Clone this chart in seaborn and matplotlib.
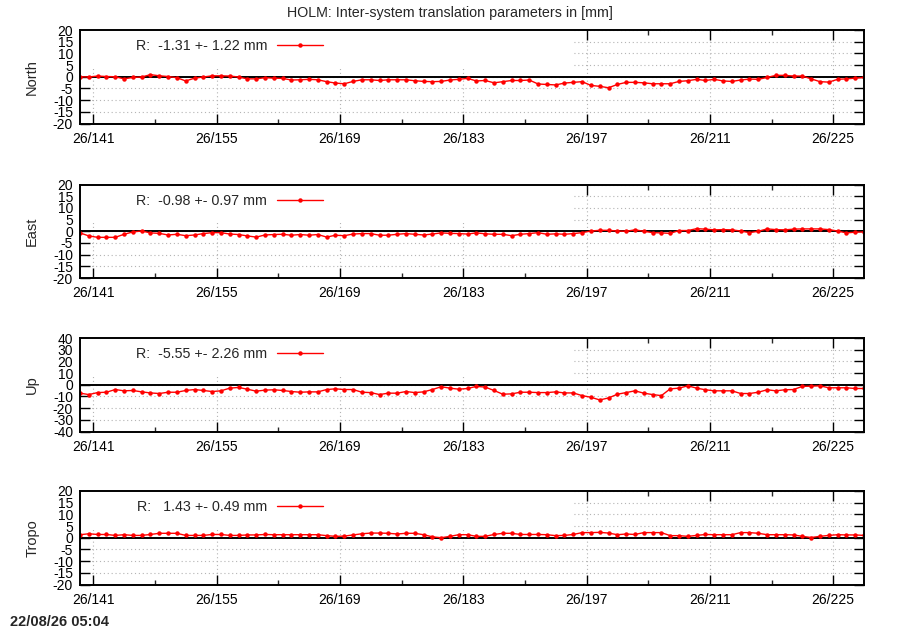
import numpy as np
import pandas as pd
import matplotlib
matplotlib.use("Agg")
import matplotlib.pyplot as plt
import seaborn as sns
from matplotlib.patches import Rectangle
from matplotlib.ticker import FixedLocator

# ---------------- data ----------------
days = np.arange(139.5, 229.5, 1.0)          # daily solutions, DOY 139.5 .. 228.5

north = [0.0, -0.1, 0.3, 0.1, 0.0, -0.9, -0.3, -0.1, 0.9, 0.4, 0.1, -0.4, -1.8, -0.6, -0.1,
         0.4, 0.4, 0.3, -0.1, -0.9, -0.9, -0.4, -0.6, -0.7, -1.4, -1.3, -1.1, -1.3, -2.1, -2.7,
         -3.0, -2.0, -1.3, -1.3, -1.6, -1.3, -1.3, -1.3, -1.7, -2.0, -2.1, -2.0, -1.4,
         -1.1, -0.7, -1.8, -1.6, -2.6, -2.1, -1.6, -1.6, -1.4, -3.1, -3.3, -3.5, -2.7, -2.4, -2.1,
         -3.7, -4.1, -4.7, -3.3, -2.4, -2.4, -2.6, -3.0, -3.0, -3.0, -2.0, -1.7, -1.1, -1.6, -1.1,
         -1.8, -2.0, -1.4, -1.0, -1.1, -0.3, 0.6, 0.6, 0.3, 0.3, -0.9, -2.1, -2.3, -1.1, -0.9,
         -0.6, -0.3]

east = [-0.7, -2.0, -2.6, -2.6, -2.6, -1.3, -0.3, 0.1, -0.7, -0.9, -1.6, -1.3, -1.9, -1.6, -1.0,
        -0.6, -0.6, -1.2, -1.4, -2.0, -2.5, -1.6, -1.4, -1.3, -1.7, -1.4, -1.7, -1.4, -2.5, -1.7,
        -1.9, -1.2, -1.0, -1.0, -1.7, -1.7, -1.3, -1.0, -1.3, -1.6, -1.2, -0.7, -0.9, -1.0, -1.2,
        -0.7, -1.1, -1.3, -1.3, -1.9, -1.3, -1.0, -0.6, -1.3, -1.1, -1.3, -1.0, -0.6, 0.1, 0.4,
        0.4, 0.1, 0.0, 0.6, 0.0, -0.6, -0.7, -0.9, 0.3, 0.3, 1.1, 0.9, 0.6, 0.7, 0.6,
        0.1, -0.6, 0.0, 1.0, 0.7, 0.6, 0.9, 1.0, 1.0, 1.0, 0.7, 0.1, -0.7, -0.4, -0.3]

up = [-7.2, -8.4, -6.7, -6.4, -4.1, -5.2, -4.9, -6.1, -7.0, -7.5, -6.4, -6.4, -4.9, -4.1, -4.9,
      -5.8, -5.2, -2.9, -2.3, -3.8, -5.5, -4.6, -4.3, -4.9, -5.8, -6.4, -6.1, -6.1, -4.1, -3.5,
      -4.1, -4.1, -6.4, -6.7, -8.4, -7.2, -7.2, -5.8, -6.7, -6.1, -4.1, -1.7, -2.9, -3.8, -3.2,
      -1.4, -2.0, -4.9, -8.1, -7.8, -6.4, -6.4, -6.7, -6.7, -6.1, -7.0, -7.0, -9.3, -10.7, -13.0,
      -11.3, -8.1, -6.7, -5.2, -7.2, -8.4, -9.3, -3.5, -2.9, -0.9, -2.9, -4.3, -5.2, -5.2, -5.2,
      -7.5, -7.5, -6.4, -4.3, -5.2, -4.3, -4.1, -1.4, -1.2, -0.9, -2.6, -2.6, -2.6, -3.2, -3.2]

tropo = [1.3, 1.7, 1.4, 1.4, 1.0, 1.3, 1.0, 1.0, 1.4, 1.9, 1.9, 1.9, 1.0, 1.0, 1.0,
         1.4, 1.4, 1.0, 1.0, 1.2, 1.2, 1.4, 1.3, 1.3, 1.3, 1.3, 1.3, 1.3, 0.9, 0.6,
         0.7, 1.2, 1.7, 2.0, 2.0, 1.9, 1.6, 1.9, 1.9, 1.3, 0.4, 0.0, 0.6, 1.3, 1.3,
         0.6, 0.6, 1.4, 1.9, 1.9, 1.4, 1.4, 1.4, 1.3, 0.9, 1.0, 1.4, 2.2, 2.2, 2.3,
         2.0, 1.3, 1.6, 1.4, 2.2, 2.2, 2.2, 0.9, 0.9, 0.6, 1.0, 1.4, 1.3, 1.3, 1.3,
         2.2, 2.2, 1.9, 1.3, 1.3, 1.3, 1.2, 0.6, 0.1, 0.6, 1.0, 1.3, 1.2, 1.2, 1.0]

panel_names = ["North", "East", "Up", "Tropo"]
panel_means = [-1.31, -0.98, -5.55, 1.43]
panel_stds = [1.22, 0.97, 2.26, 0.49]
panel_limits = [20, 20, 40, 20]
panel_steps = [5, 5, 10, 5]

major_days = [141, 155, 169, 183, 197, 211, 225]
minor_days = [148, 162, 176, 190, 204, 218]
major_labels = ["26/141", "26/155", "26/169", "26/183", "26/197", "26/211", "26/225"]

title = "HOLM: Inter-system translation parameters in [mm]"
stamp = "22/08/26 05:04"

# ---------------- style ----------------
sns.set_style("white")
plt.rcParams["font.family"] = ["Liberation Sans", "DejaVu Sans"]
plt.rcParams["font.size"] = 10

W, H = 900, 630
fig = plt.figure(figsize=(W / 100, H / 100), dpi=100)

tops = [30, 184.5, 338, 491]
ax_h = 93.5
left_px, right_px = 80, 864

series = [north, east, up, tropo]

for i, name in enumerate(panel_names):
    top = tops[i]
    ax = fig.add_axes([left_px / W, 1 - (top + ax_h) / H, (right_px - left_px) / W, ax_h / H])
    df = pd.DataFrame({"day": days, "val": series[i]})
    label = "R: %6.2f +- %4.2f mm" % (panel_means[i], panel_stds[i])
    sns.lineplot(data=df, x="day", y="val", ax=ax, color="#ff0000", linewidth=1.0,
                 marker="o", markersize=3.2, markeredgewidth=0, label=label, zorder=4)

    lim = panel_limits[i]
    step = panel_steps[i]
    ax.set_xlim(139.5, 228.5)
    ax.set_ylim(-lim, lim)
    yt = list(range(-lim, lim + 1, step))
    ax.set_yticks(yt)
    ax.set_yticklabels([str(v) for v in yt])
    ax.set_xticks(major_days)
    ax.set_xticklabels(major_labels)
    ax.xaxis.set_minor_locator(FixedLocator(minor_days))

    # grid
    ax.set_axisbelow(True)
    ax.grid(True, which="major", axis="both", color="#b4b4b4", linestyle=(0, (1, 2.5)),
            linewidth=0.8, zorder=0.5)
    # opaque key box covering the grid at upper left
    ax.add_patch(Rectangle((0, 1 - 0.415), 0.629, 0.415, transform=ax.transAxes,
                           facecolor="white", edgecolor="none", zorder=1))
    ax.axhline(0, color="black", linewidth=1.4, zorder=2)

    for sp in ax.spines.values():
        sp.set_linewidth(1.4)
        sp.set_color("black")
        sp.set_visible(True)
        sp.set_zorder(5)

    ax.tick_params(axis="both", which="major", direction="in", length=7, width=1.0,
                   top=True, right=True, bottom=True, left=True, labelsize=10, colors="black")
    ax.tick_params(axis="x", which="major", pad=6)
    ax.tick_params(axis="y", which="major", pad=5)
    ax.tick_params(axis="x", which="minor", direction="in", length=3.5, width=1.0,
                   top=True, bottom=True)

    ax.set_xlabel("")
    ax.set_ylabel(name, fontsize=10.5, va="center")
    ax.yaxis.set_label_coords(-0.061, 0.5)

    ax.legend(loc="center right", bbox_to_anchor=(0.31, 0.828), markerfirst=False,
              frameon=False, handlelength=3.2, handletextpad=0.7, borderpad=0,
              borderaxespad=0, fontsize=10.3)

fig.text(0.5, 1 - 13.5 / H, title, ha="center", va="center", fontsize=10.3)
fig.text(10 / W, 1 - 622 / H, stamp, ha="left", va="center", fontsize=10.5, fontweight="bold")

fig.savefig("out.png", dpi=100)
